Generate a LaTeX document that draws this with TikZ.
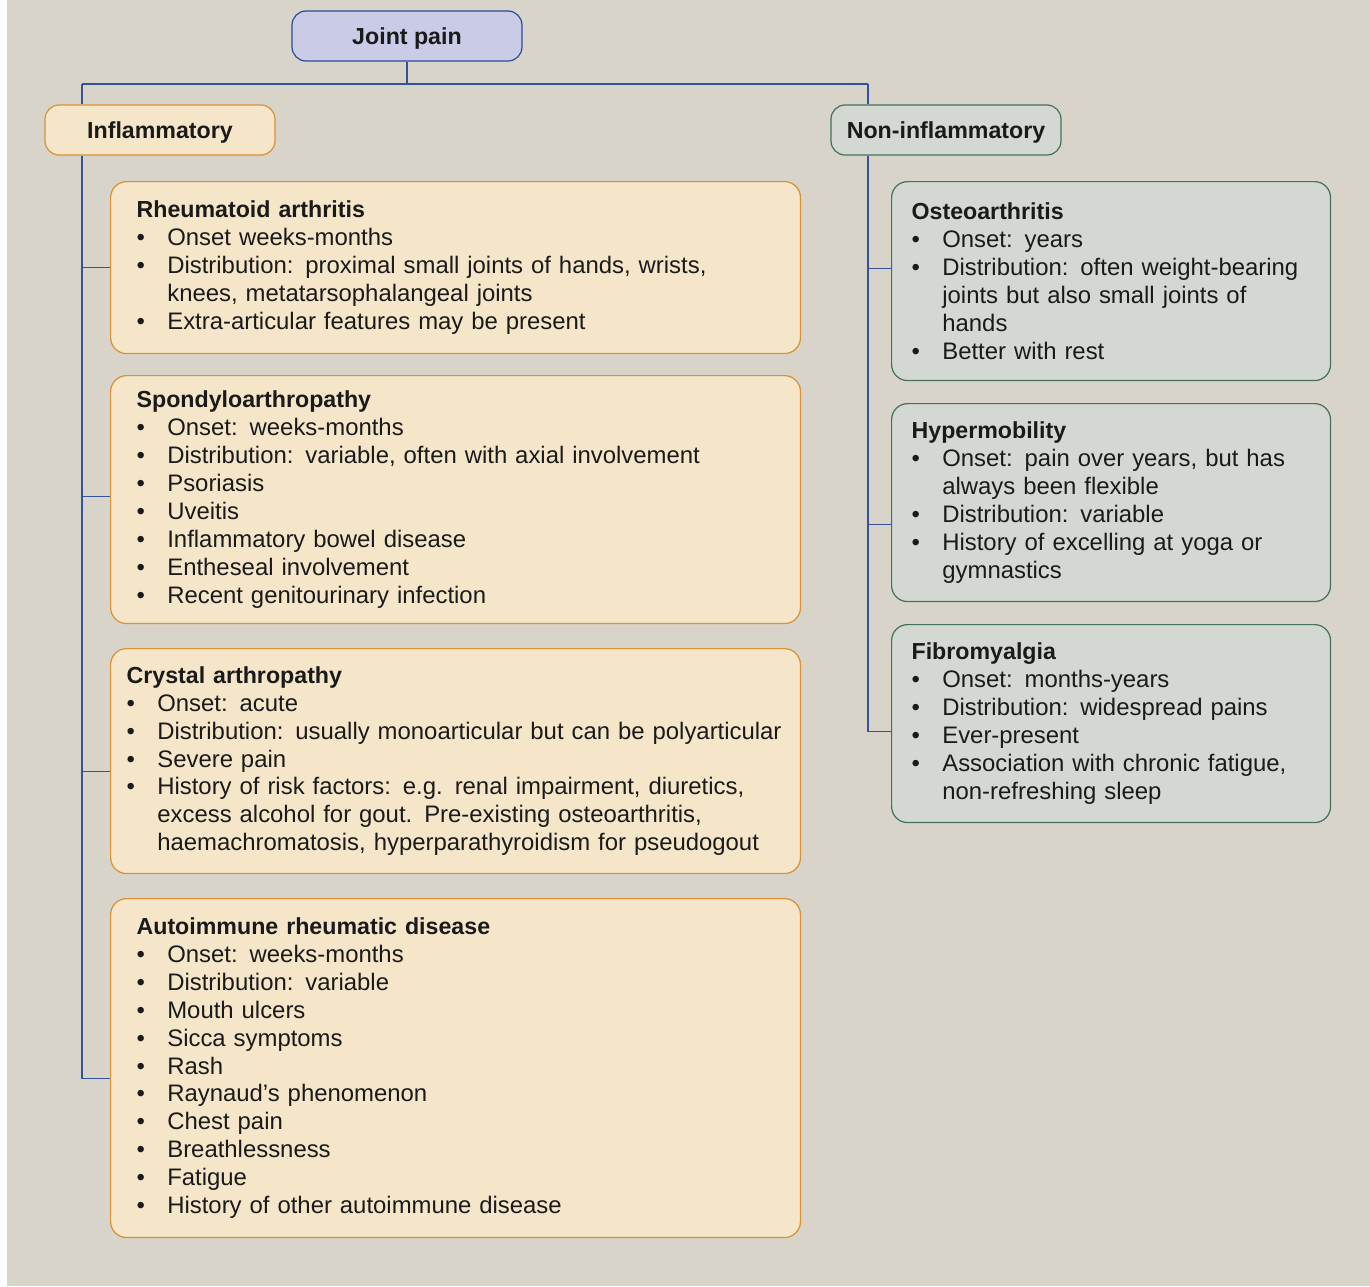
\documentclass[tikz,border=0pt]{standalone}
\usepackage{fontspec}
\setmainfont{Liberation Sans}
\usepackage{tikz}
\usetikzlibrary{positioning}
\usepackage{xcolor}

\definecolor{bgc}{HTML}{D8D4C9}
\definecolor{ink}{HTML}{1A1A1A}
\definecolor{topFill}{HTML}{C9CBE7}
\definecolor{topLine}{HTML}{2B4C9B}
\definecolor{infFill}{HTML}{F5E6CA}
\definecolor{infLine}{HTML}{DA9134}
\definecolor{nonFill}{HTML}{D4D8D3}
\definecolor{nonLine}{HTML}{45735A}
\definecolor{linkc}{HTML}{3552A0}

\newcommand{\ttl}[1]{\noindent{\bfseries\fontsize{13.2}{15.9}\selectfont #1}}
\newcommand{\itm}{\par\noindent\hangindent=17.5pt\hangafter=1\hbox to 17.5pt{\textbullet\hfil}}

\begin{document}
\begin{tikzpicture}[x=0.02cm, y=-0.02cm,
  head/.style={draw, line width=0.7pt, rounded corners=0.28cm, minimum width=4.6cm, minimum height=1cm, text depth=0pt, text=ink, font=\bfseries\fontsize{13.2}{16}\selectfont},
  box/.style={draw, line width=0.7pt, rounded corners=0.32cm, anchor=north west, text=ink, font=\fontsize{13.6}{15.9}\selectfont},
  infbox/.style={box, fill=infFill, draw=infLine, minimum width=13.8cm, text width=12.76cm, inner xsep=0.52cm},
  nonbox/.style={box, fill=nonFill, draw=nonLine, minimum width=8.78cm, text width=7.98cm, inner xsep=0.4cm},
  link/.style={draw=linkc, line width=0.7pt}
]
\useasboundingbox (0,0) rectangle (1370,1286);
\fill[bgc] (7,0) rectangle (1370,1286);

\node[head, fill=topFill, draw=topLine] (jp) at (407,36) {Joint pain};
\node[head, fill=infFill, draw=infLine] (inf) at (160,130) {Inflammatory};
\node[head, fill=nonFill, draw=nonLine] (non) at (946,130) {Non-inflammatory};

\node[infbox, minimum height=3.44cm] (ra) at (110,181) {\ttl{Rheumatoid arthritis}
\itm Onset weeks-months
\itm Distribution: proximal small joints of hands, wrists,\newline knees, metatarsophalangeal joints
\itm Extra-articular features may be present\par};

\node[infbox, minimum height=4.96cm] (sp) at (110,375) {\ttl{Spondyloarthropathy}
\itm Onset: weeks-months
\itm Distribution: variable, often with axial involvement
\itm Psoriasis
\itm Uveitis
\itm Inflammatory bowel disease
\itm Entheseal involvement
\itm Recent genitourinary infection\par};

\node[infbox, minimum height=4.5cm, text width=13.16cm, inner xsep=0.32cm] (cry) at (110,648) {\ttl{Crystal arthropathy}
\itm Onset: acute
\itm Distribution: usually monoarticular but can be polyarticular
\itm Severe pain
\itm History of risk factors: e.g. renal impairment, diuretics,\newline excess alcohol for gout. Pre-existing osteoarthritis,\newline haemachromatosis, hyperparathyroidism for pseudogout\par};

\node[infbox, minimum height=6.78cm] (aut) at (110,898) {\ttl{Autoimmune rheumatic disease}
\itm Onset: weeks-months
\itm Distribution: variable
\itm Mouth ulcers
\itm Sicca symptoms
\itm Rash
\itm Raynaud’s phenomenon
\itm Chest pain
\itm Breathlessness
\itm Fatigue
\itm History of other autoimmune disease\par};

\node[nonbox, minimum height=3.98cm] (ost) at (891,181) {\ttl{Osteoarthritis}
\itm Onset: years
\itm Distribution: often weight-bearing\newline joints but also small joints of\newline hands
\itm Better with rest\par};

\node[nonbox, minimum height=3.96cm] (hyp) at (891,403) {\ttl{Hypermobility}
\itm Onset: pain over years, but has\newline always been flexible
\itm Distribution: variable
\itm History of excelling at yoga or\newline gymnastics\par};

\node[nonbox, minimum height=3.96cm] (fib) at (891,624) {\ttl{Fibromyalgia}
\itm Onset: months-years
\itm Distribution: widespread pains
\itm Ever-present
\itm Association with chronic fatigue,\newline non-refreshing sleep\par};

\coordinate (lt) at (82,84);
\coordinate (rt) at (868,84);
\draw[link] (jp.south) -- (jp.south |- lt);
\draw[link] (lt) -- (rt);
\draw[link] (lt) -- (lt |- inf.north);
\draw[link] (rt) -- (rt |- non.north);
\draw[link] (lt |- inf.south) |- ([yshift=-0.21cm]aut.west);
\draw[link] (lt |- ra.west) -- (ra.west);
\draw[link] ([yshift=0.06cm]lt |- sp.west) -- ([yshift=0.06cm]sp.west);
\draw[link] ([yshift=-0.21cm]lt |- cry.west) -- ([yshift=-0.21cm]cry.west);
\draw[link] (rt |- non.south) |- ([yshift=-0.16cm]fib.west);
\draw[link] ([yshift=0.25cm]rt |- ost.west) -- ([yshift=0.25cm]ost.west);
\draw[link] ([yshift=-0.44cm]rt |- hyp.west) -- ([yshift=-0.44cm]hyp.west);
\end{tikzpicture}
\end{document}
